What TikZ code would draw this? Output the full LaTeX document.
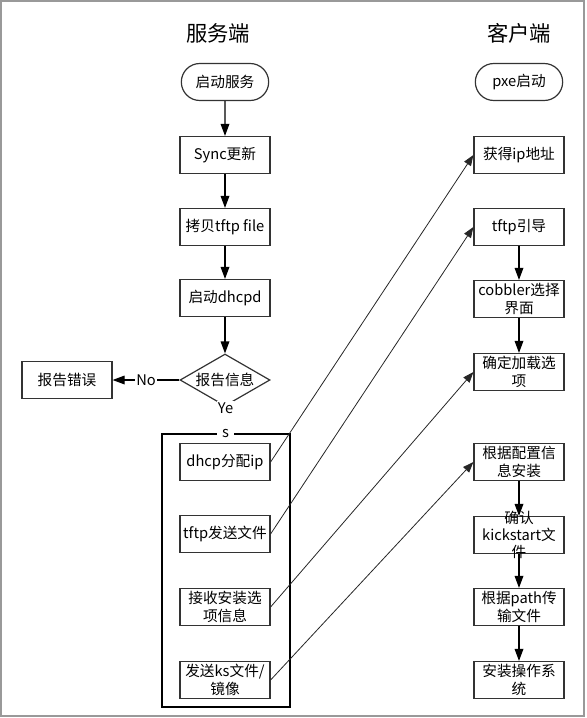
\documentclass[tikz,border=0pt]{standalone}
\usepackage{fontspec}
\setmainfont{Noto Sans CJK SC}
\usetikzlibrary{shapes.geometric,shapes.misc,arrows.meta}
\begin{document}
\begin{tikzpicture}[x=0.75pt,y=-0.75pt,font=\fontsize{11}{13}\selectfont]
\tikzstyle{caja}=[rectangle,draw=black!80,line width=0.9pt,minimum width=67.5pt,minimum height=27.75pt,inner sep=1pt,align=center]% cada paso
\tikzstyle{inicio}=[rounded rectangle,draw=black!80,line width=0.9pt,minimum width=67.5pt,minimum height=27.75pt,inner sep=1pt]% inicio
\tikzstyle{decision}=[diamond,draw=black!80,line width=0.9pt,minimum width=67.5pt,minimum height=39pt,inner sep=0pt,aspect=1.7]% pregunta
\tikzstyle{flecha}=[black,line width=0.9pt,-{Triangle[length=9pt,width=6.5pt]}]% flecha vertical
\tikzstyle{cruce}=[black!85,line width=0.6pt,-{Triangle[length=8pt,width=6pt]}]% flecha entre lados
\useasboundingbox (0,0) rectangle (586,718);
\draw[black!40,line width=1.4pt] (1,1) rectangle (584,716);% marco
\node (tserv) at (218,33) {\fontsize{16}{18}\selectfont 服务端};
\node (tcli) at (519,33) {\fontsize{16}{18}\selectfont 客户端};
% servidor
\node[inicio] (arranque) at (225,82) {启动服务};
\node[caja] (sync) at (225,155) {Sync更新};
\node[caja] (copia) at (225,227) {拷贝tftp file};
\node[caja] (dhcpd) at (225,298) {启动dhcpd};
\node[decision] (info) at (225,380) {报告信息};
\node[caja] (error) at (67,380) {报告错误};
\node[rectangle,draw=black,line width=0.9pt,minimum width=96pt,minimum height=204.75pt] (grupo) at (226,570.5) {};
\node[caja] (asigna) at (225,462) {dhcp分配ip};
\node[caja] (envia) at (225,534) {tftp发送文件};
\node[caja] (recibe) at (225,607) {接收安装选\\项信息};
\node[caja] (ks) at (225,680) {发送ks文件/\\镜像};
% cliente
\node[inicio] (pxe) at (519,82) {pxe启动};
\node[caja] (ip) at (519,155) {获得ip地址};
\node[caja] (guia) at (519,227) {tftp引导};
\node[caja] (menu) at (519,299) {cobbler选择\\界面};
\node[caja] (carga) at (519,372) {确定加载选\\项};
\node[caja] (instala) at (519,462) {根据配置信\\息安装};
\node[caja,label={[align=center,text=black]center:确认\\kickstart文\\件}] (kick) at (519,535) {};
\node[caja] (ruta) at (519,607) {根据path传\\输文件};
\node[caja] (so) at (519,680) {安装操作系\\统};
% conexiones
\draw[flecha] (arranque) -- (sync);
\draw[flecha] (sync) -- (copia);
\draw[flecha] (copia) -- (dhcpd);
\draw[flecha] (dhcpd) -- (info);
\draw[flecha] (info) -- node[fill=white,inner sep=1pt] {No} (error);
\draw[black,line width=0.9pt] (info.south) -- node[fill=white,inner sep=1pt,align=center,font=\fontsize{11}{18}\selectfont] {Ye\\s} (grupo.north);
\draw[flecha] (guia) -- (menu);
\draw[flecha] (menu) -- (carga);
\draw[flecha] (instala) -- (kick);
\draw[flecha] (kick) -- (ruta);
\draw[flecha] (ruta) -- (so);
\draw[cruce] (asigna.east) -- (ip.west);
\draw[cruce] (envia.east) -- (guia.west);
\draw[cruce] (recibe.east) -- (carga.west);
\draw[cruce] (ks.east) -- (instala.west);
\end{tikzpicture}
\end{document}
